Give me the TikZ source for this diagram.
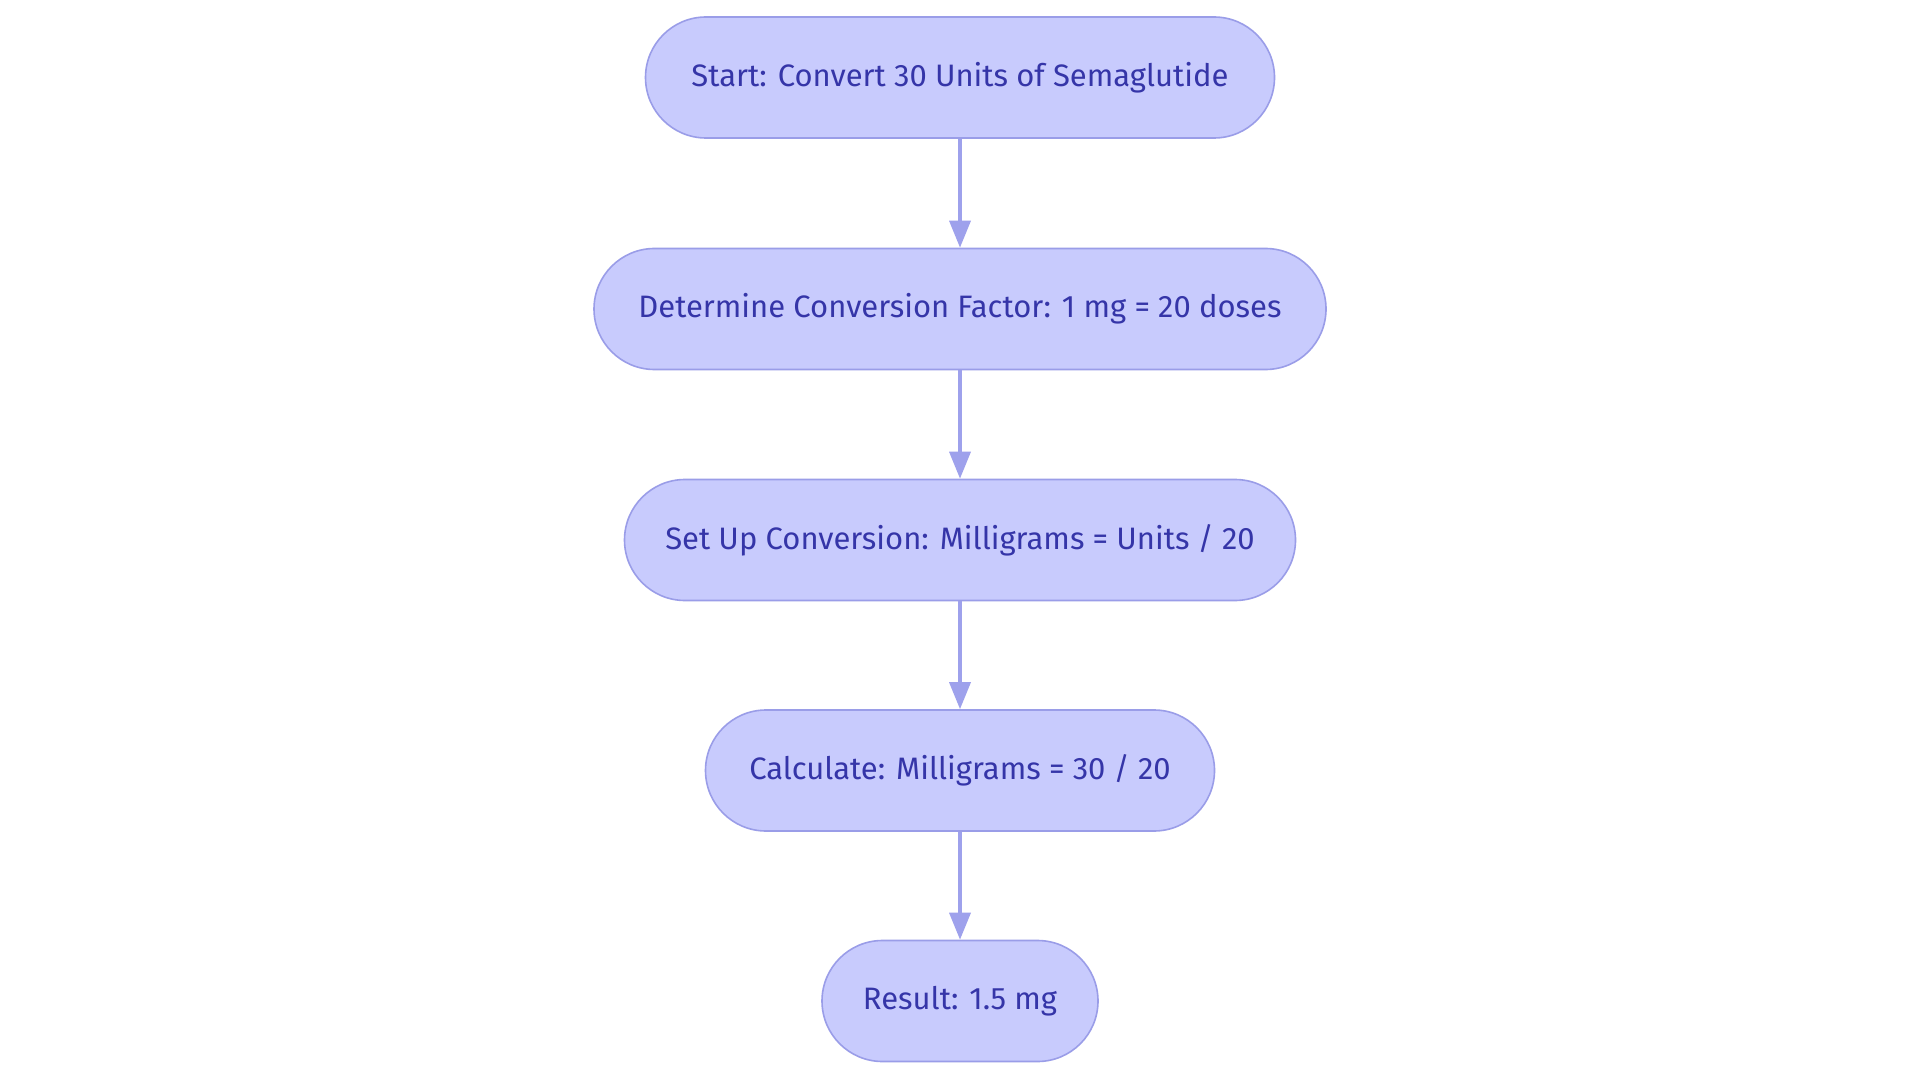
\documentclass[tikz,border=0pt]{standalone}
\usepackage{fontspec}
\setmainfont{Fira Sans}
\usetikzlibrary{arrows.meta}
\definecolor{boxfill}{HTML}{C8CBFD}
\definecolor{boxline}{HTML}{9A9DE8}
\definecolor{boxtext}{HTML}{3535A8}
\definecolor{arrowcol}{HTML}{9EA1EC}
\tikzset{
  stepbox/.style={draw=boxline, fill=boxfill, line width=1.6pt, rounded corners=60.5pt,
    minimum height=121pt, inner sep=0pt, text=boxtext,
    font=\fontsize{31}{37}\selectfont},
  flowarrow/.style={draw=arrowcol, line width=3.5pt,
    -{Triangle[length=27pt,width=21pt]}, shorten >=0pt},
}
\begin{document}
\begin{tikzpicture}[x=1pt,y=-1pt]
\useasboundingbox[fill=white] (0,0) rectangle (1920,1083);
\node[stepbox, minimum width=629pt] (n1) at (960,77.5) {Start: Convert 30 Units of Semaglutide};
\node[stepbox, minimum width=732pt] (n2) at (960,309) {Determine Conversion Factor: 1 mg = 20 doses};
\node[stepbox, minimum width=671pt] (n3) at (960,540) {Set Up Conversion: Milligrams = Units / 20};
\node[stepbox, minimum width=509pt] (n4) at (960,770.5) {Calculate: Milligrams = 30 / 20};
\node[stepbox, minimum width=276pt] (n5) at (960,1001) {Result: 1.5 mg};
\draw[flowarrow] (n1) -- (n2);
\draw[flowarrow] (n2) -- (n3);
\draw[flowarrow] (n3) -- (n4);
\draw[flowarrow] (n4) -- (n5);
\end{tikzpicture}
\end{document}
